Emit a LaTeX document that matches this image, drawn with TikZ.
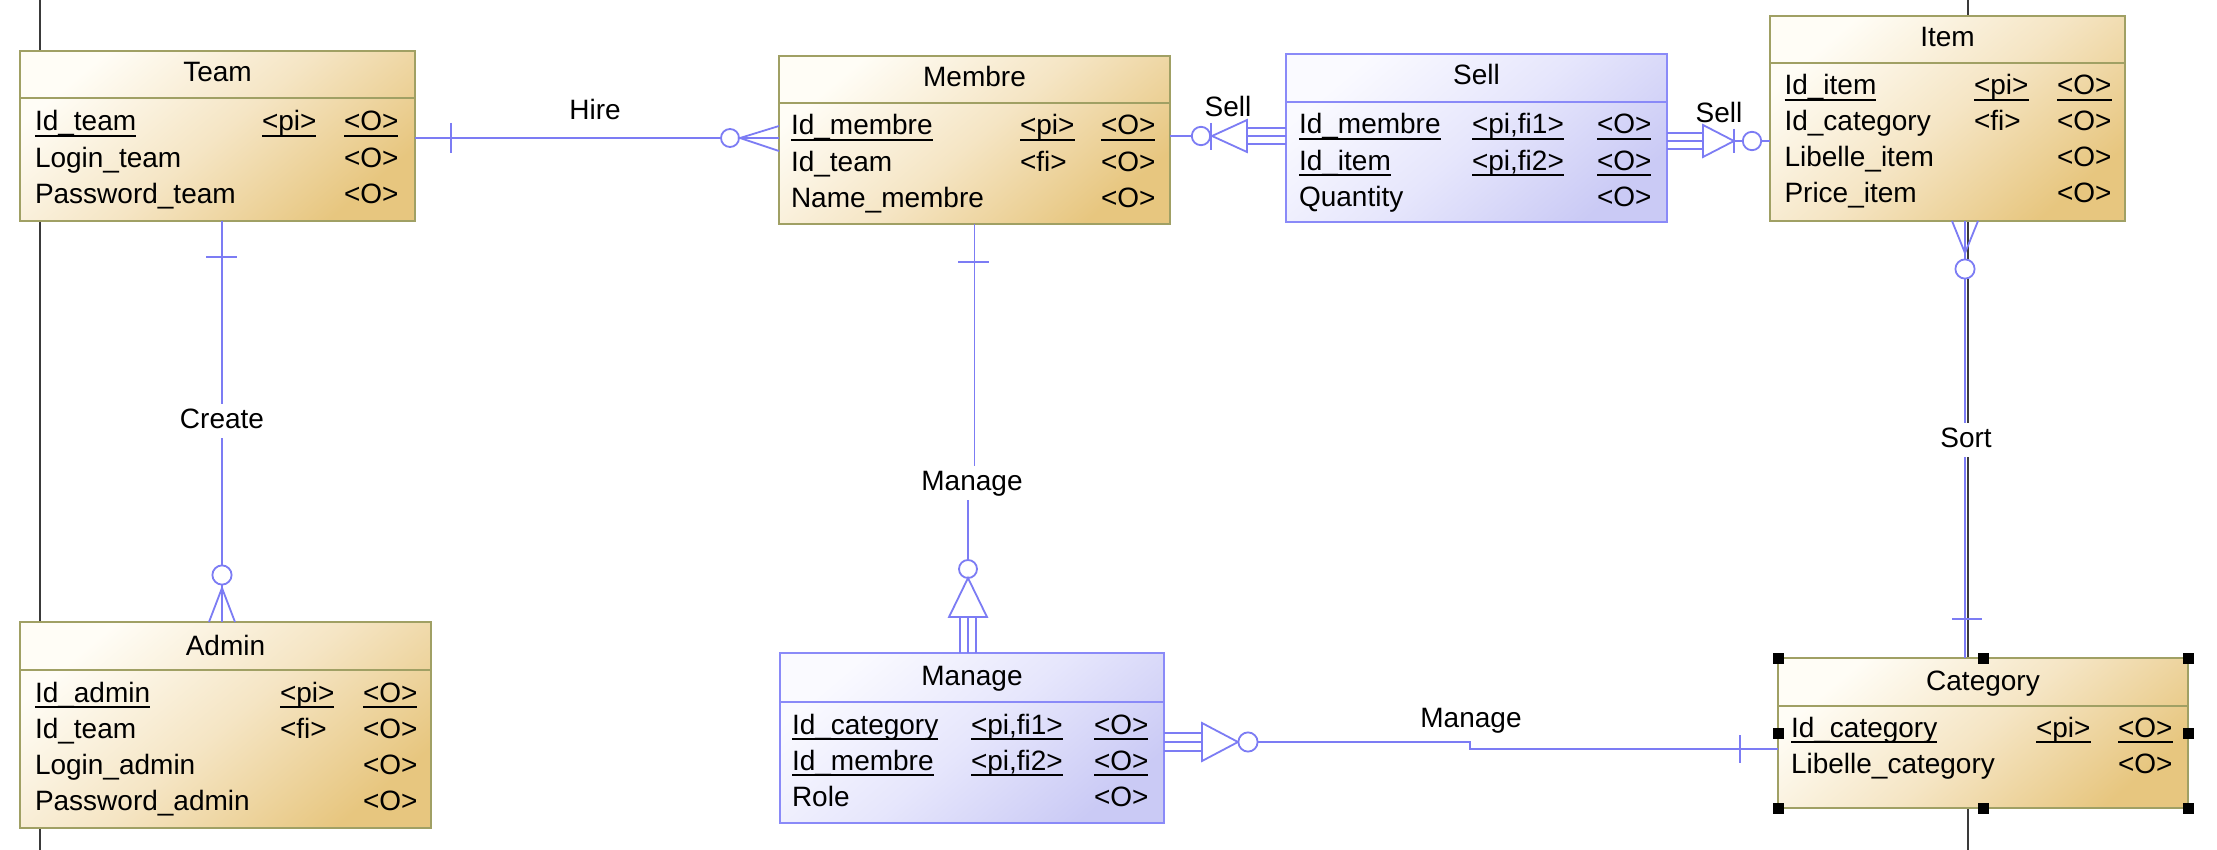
\documentclass[tikz,border=0pt]{standalone}
\usepackage{fontspec}
\setmainfont{Liberation Sans}
\definecolor{entA}{HTML}{FFFDF6}
\definecolor{entM}{HTML}{F5E5C4}
\definecolor{entB}{HTML}{E7C67F}
\definecolor{entBorder}{HTML}{A0A064}
\definecolor{relA}{HTML}{FAFAFF}
\definecolor{relM}{HTML}{E6E6FC}
\definecolor{relB}{HTML}{CACAF5}
\definecolor{relBorder}{HTML}{8A8AF8}
\definecolor{conn}{HTML}{7C7CF4}
\definecolor{pageline}{HTML}{3A3A3A}
\newcommand\ulx[1]{\setbox0\hbox{#1}\rlap{\rule[-3pt]{\wd0}{1pt}}\box0}
\newcommand\mkbox[6]{\node[#6, minimum width={(#4-#2)*0.5pt}, minimum height={(#5-#3)*0.5pt}, anchor=north west] (#1) at (#2,#3) {};}
\newcommand\attr[8]{%
  \node[txt] (#1a) at (#3,#2) {#4};
  \node[txt] (#1b) at (#5,#2) {#6};
  \node[txt] (#1c) at (#7,#2) {#8};}
\tikzset{
  entbox/.style={draw=entBorder, line width=1pt, inner sep=0pt, outer sep=0pt,
    top color=entA, bottom color=entB, middle color=entM, shading angle=40},
  relbox/.style={draw=relBorder, line width=1pt, inner sep=0pt, outer sep=0pt,
    top color=relA, bottom color=relB, middle color=relM, shading angle=40},
  entline/.style={draw=entBorder, line width=1pt},
  relline/.style={draw=relBorder, line width=1pt},
  txt/.style={anchor=base west, inner sep=0pt, outer sep=0pt},
  ttl/.style={anchor=base, inner sep=0pt, outer sep=0pt},
  cn/.style={draw=conn, line width=0.9pt},
  ring/.style={draw=conn, line width=0.9pt, fill=white},
  lab/.style={anchor=base, inner sep=0pt},
  labgap/.style={anchor=base, fill=white, inner xsep=2pt, inner ysep=2pt, text height=10pt, text depth=3pt},
  pline/.style={draw=pageline, line width=1pt}
}
\begin{document}
\begin{tikzpicture}[x=0.5pt, y=-0.5pt, font=\fontsize{14pt}{16pt}\selectfont, line join=miter]
\fill[white] (0,0) rectangle (2217,850);
\useasboundingbox (0,0) rectangle (2217,850);

% page border lines
\coordinate (pa1) at (40,0); \coordinate (pa2) at (40,850);
\coordinate (pb1) at (1968,0); \coordinate (pb2) at (1968,850);
\draw[pline] (pa1) -- (pa2);
\draw[pline] (pb1) -- (pb2);

% boxes
\mkbox{team}{20}{51}{415}{221}{entbox}
\mkbox{membre}{779}{56}{1170}{224}{entbox}
\mkbox{sell}{1286}{54}{1667}{222}{relbox}
\mkbox{item}{1770}{16}{2125}{221}{entbox}
\mkbox{admin}{20}{622}{431}{828}{entbox}
\mkbox{manage}{780}{653}{1164}{823}{relbox}
\mkbox{category}{1778}{658}{2188}{808}{entbox}

% header separators
\draw[entline] (team.west |- 0,98) -- (team.east |- 0,98);
\draw[entline] (membre.west |- 0,103) -- (membre.east |- 0,103);
\draw[relline] (sell.west |- 0,102) -- (sell.east |- 0,102);
\draw[entline] (item.west |- 0,63) -- (item.east |- 0,63);
\draw[entline] (admin.west |- 0,670) -- (admin.east |- 0,670);
\draw[relline] (manage.west |- 0,702) -- (manage.east |- 0,702);
\draw[entline] (category.west |- 0,706) -- (category.east |- 0,706);

% titles
\node[ttl] (teamT) at (217.5,82) {Team};
\node[ttl] (membreT) at (974.5,87) {Membre};
\node[ttl] (sellT) at (1476.5,85) {Sell};
\node[ttl] (itemT) at (1947.5,47) {Item};
\node[ttl] (adminT) at (225.5,655) {Admin};
\node[ttl] (manageT) at (972,685) {Manage};
\node[ttl] (categoryT) at (1983,690) {Category};

% attributes
\attr{ta}{131}{35}{\ulx{Id\_team}}{262}{\ulx{<pi>}}{344}{\ulx{<O>}}
\attr{tb}{167.5}{35}{Login\_team}{262}{}{344}{<O>}
\attr{tc}{204}{35}{Password\_team}{262}{}{344}{<O>}

\attr{ma}{135}{791}{\ulx{Id\_membre}}{1020}{\ulx{<pi>}}{1101}{\ulx{<O>}}
\attr{mb}{171.5}{791}{Id\_team}{1020}{<fi>}{1101}{<O>}
\attr{mc}{208}{791}{Name\_membre}{1020}{}{1101}{<O>}

\attr{sa}{134}{1299}{\ulx{Id\_membre}}{1472}{\ulx{<pi,fi1>}}{1597}{\ulx{<O>}}
\attr{sb}{170.5}{1299}{\ulx{Id\_item}}{1472}{\ulx{<pi,fi2>}}{1597}{\ulx{<O>}}
\attr{sc}{207}{1299}{Quantity}{1472}{}{1597}{<O>}

\attr{ia}{95}{1784.5}{\ulx{Id\_item}}{1974}{\ulx{<pi>}}{2057}{\ulx{<O>}}
\attr{ib}{131}{1784.5}{Id\_category}{1974}{<fi>}{2057}{<O>}
\attr{ic}{167}{1784.5}{Libelle\_item}{1974}{}{2057}{<O>}
\attr{id}{203}{1784.5}{Price\_item}{1974}{}{2057}{<O>}

\attr{aa}{702}{35}{\ulx{Id\_admin}}{280}{\ulx{<pi>}}{363}{\ulx{<O>}}
\attr{ab}{738}{35}{Id\_team}{280}{<fi>}{363}{<O>}
\attr{ac}{774}{35}{Login\_admin}{280}{}{363}{<O>}
\attr{ad}{810}{35}{Password\_admin}{280}{}{363}{<O>}

\attr{ga}{734}{792}{\ulx{Id\_category}}{971}{\ulx{<pi,fi1>}}{1094}{\ulx{<O>}}
\attr{gb}{770}{792}{\ulx{Id\_membre}}{971}{\ulx{<pi,fi2>}}{1094}{\ulx{<O>}}
\attr{gc}{806}{792}{Role}{971}{}{1094}{<O>}

\attr{ca}{737}{1791}{\ulx{Id\_category}}{2036}{\ulx{<pi>}}{2118}{\ulx{<O>}}
\attr{cb}{773}{1791}{Libelle\_category}{2036}{}{2118}{<O>}

% selection handles on Category
\foreach \a in {north west,north,north east,west,east,south west,south,south east}
  \fill[black] (category.\a) +(-5.5,-5.5) rectangle +(5.5,5.5);

% ---- Hire: Team -> Membre
\coordinate (h1) at (team.east |- 0,138);
\coordinate (h2) at (membre.west |- 0,138);
\draw[cn] (h1) -- (h2);
\draw[cn] (451,123) -- (451,153);
\draw[ring] (730,138) circle[radius=4.5pt];
\draw[cn] (h2 |- 0,126) -- (740,138) -- (h2 |- 0,151);

% ---- Create: Team -> Admin
\coordinate (c1) at (team.south -| 222,0);
\coordinate (c2) at (admin.north -| 222,0);
\draw[cn] (c1) -- (c2);
\draw[cn] (206,257) -- (237,257);
\draw[ring] (222,575) circle[radius=4.8pt];
\draw[cn] (c2 -| 209,0) -- (222,588) -- (c2 -| 235,0);

% ---- Manage: Membre -> Manage (vertical)
\coordinate (v1) at (membre.south);
\draw[cn] (v1) -- (974.5,481);
\draw[cn] (968,481) -- (968,569);
\draw[cn] (958,262) -- (989,262);
\draw[ring] (968,569) circle[radius=4.5pt];
\draw[cn] (949,617) -- (968,578) -- (987,617) -- cycle;
\draw[cn] (manage.north -| 960,0) -- (960,617);
\draw[cn] (manage.north -| 968,0) -- (968,617);
\draw[cn] (manage.north -| 976,0) -- (976,617);

% ---- Sell: Membre <- Sell
\draw[cn] (membre.east |- 0,136) -- (1212,136);
\draw[ring] (1201,136) circle[radius=4.6pt];
\draw[cn] (1211,123) -- (1211,150);
\draw[cn] (1247,120) -- (1212,136) -- (1247,152) -- cycle;
\draw[cn] (sell.west |- 0,128) -- (1247,128);
\draw[cn] (sell.west |- 0,136) -- (1247,136);
\draw[cn] (sell.west |- 0,144) -- (1247,144);

% ---- Sell: Sell -> Item
\draw[cn] (sell.east |- 0,133) -- (1703,133);
\draw[cn] (sell.east |- 0,141) -- (1703,141);
\draw[cn] (sell.east |- 0,149) -- (1703,149);
\draw[cn] (1703,125) -- (1734,141) -- (1703,157) -- cycle;
\draw[cn] (1734,141) -- (item.west |- 0,141);
\draw[cn] (1734,129) -- (1734,153);
\draw[ring] (1752,141) circle[radius=4.6pt];

% ---- Manage: Manage -> Category
\draw[cn] (manage.east |- 0,733) -- (1202,733);
\draw[cn] (manage.east |- 0,742) -- (1202,742);
\draw[cn] (manage.east |- 0,751) -- (1202,751);
\draw[cn] (1202,723) -- (1238,742) -- (1202,761) -- cycle;
\draw[cn] (1238,742) -- (1470,742) -- (1470,749) -- (category.west |- 0,749);
\draw[ring] (1248,742) circle[radius=4.8pt];
\draw[cn] (1740,735) -- (1740,763);

% ---- Sort: Item -> Category
\coordinate (s1) at (item.south -| 1965,0);
\coordinate (s2) at (category.north -| 1965,0);
\draw[cn] (s1) -- (s2);
\draw[cn] (s1 -| 1952,0) -- (1965,253) -- (s1 -| 1978,0);
\draw[ring] (1965,269) circle[radius=4.8pt];
\draw[cn] (1952,619) -- (1982,619);

% labels
\node[lab] (lhire) at (595,120) {Hire};
\node[labgap] (lcreate) at (222,428) {Create};
\node[labgap] (lmanage1) at (972,490) {Manage};
\node[lab] (lsell1) at (1228,117) {Sell};
\node[lab] (lsell2) at (1719,123) {Sell};
\node[labgap] (lsort) at (1966,447) {Sort};
\node[lab] (lmanage2) at (1471,727) {Manage};
\end{tikzpicture}
\end{document}
